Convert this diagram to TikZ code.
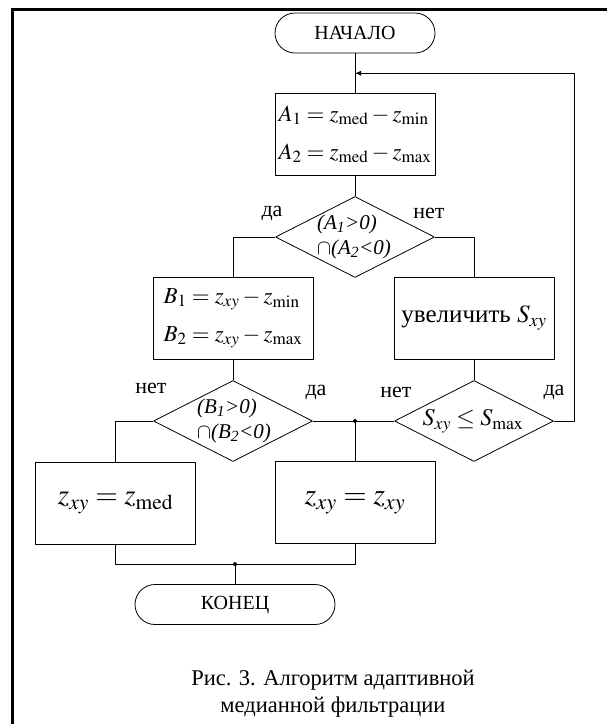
\documentclass[tikz,border=0pt]{standalone}
\usepackage{mathptmx}
\usepackage{fontspec}
\setmainfont{Liberation Serif}
\usetikzlibrary{arrows.meta,calc,shapes.geometric}
\newcommand{\setfs}[2]{\fontsize{#1}{#2}\selectfont}

\begin{document}
\begin{tikzpicture}[x=1pt,y=-1pt,>={Latex[length=6pt,width=5pt]},line join=round,
  term/.style={draw,line width=0.8pt,rounded corners=20pt,minimum height=40pt,inner sep=0pt,font=\setfs{20}{20}},
  proc/.style={draw,line width=0.8pt,minimum width=160pt,minimum height=82pt,inner sep=0pt,align=left},
  decision/.style={draw,diamond,line width=0.8pt,minimum width=159pt,minimum height=81pt,inner sep=0pt},
  cond/.style={align=left,inner sep=0pt,font=\setfs{21}{25}\itshape},
  lbl/.style={inner sep=0pt,font=\setfs{22}{22}},
  link/.style={line width=0.8pt}]
  \useasboundingbox (0,0) rectangle (607,724);
  % frame
  \draw[line width=2.7pt,line join=miter] (12.3,730) -- (12.3,9.7) -- (615,9.7);
  % blocks
  \node[term,minimum width=160pt] (start) at (355,33) {НАЧАЛО};
  \node[proc,font=\setfs{23}{38}] (A) at (355,134.5) {$A_1=z_{\mathrm{med}}-z_{\mathrm{min}}$\\$A_2=z_{\mathrm{med}}-z_{\mathrm{max}}$};
  \node[decision] (d1) at (355,237) {};
  \node[cond] (c1) at (354,237) {(A\textsubscript{1}>0)\\$\cap$(A\textsubscript{2}<0)};
  \node[proc,font=\setfs{23}{38}] (B) at (233,318.5) {$B_1=z_{xy}-z_{\mathrm{min}}$\\$B_2=z_{xy}-z_{\mathrm{max}}$};
  \node[proc,font=\setfs{25}{25}] (C) at (474,318) {увеличить $S_{xy}$};
  \node[decision] (d2) at (233,421) {};
  \node[cond] (c2) at (234,421) {(B\textsubscript{1}>0)\\$\cap$(B\textsubscript{2}<0)};
  \node[decision] (d3) at (474,421) {};
  \node[inner sep=0pt,font=\setfs{24}{24}] (c3) at (473,421) {$S_{xy}\le S_{\mathrm{max}}$};
  \node[proc,font=\setfs{29}{29}] (D) at (115.5,503) {$z_{xy}=z_{\mathrm{med}}$};
  \node[proc,font=\setfs{30}{30}] (E) at (355,502.5) {$z_{xy}=z_{xy}$};
  \node[term,minimum width=200pt] (end) at (235,604.5) {КОНЕЦ};
  % connectors
  \draw[link] (start) -- (A);
  \draw[link] (A) -- (d1);
  \draw[link] (d1.west) -| (B.north);
  \draw[link] (d1.east) -| (C.north);
  \draw[link] (B) -- (d2);
  \draw[link] (C) -- (d3);
  \draw[link] (d2.west) -| (D.north);
  \draw[link] (d2.east) -- (d3.west);
  \coordinate (j1) at (E.north |- d2.east);
  \draw[link] (j1) -- (E.north);
  \fill (j1) circle (2pt);
  \coordinate (j2) at ($(end.north)+(0,-20)$);
  \draw[link] (D.south) |- (j2) -| (E.south);
  \draw[link] (j2) -- (end.north);
  \fill (j2) circle (2pt);
  \coordinate (back) at ($(start.south)!0.5!(A.north)$);
  \draw[link,->] (d3.east) -- ++(20,0) |- (back);
  % branch labels
  \node[lbl] (l1) at (272,213) {да};
  \node[lbl] (l2) at (429,213) {нет};
  \node[lbl] (l3) at (151,388) {нет};
  \node[lbl] (l4) at (316,392) {да};
  \node[lbl] (l5) at (396,392) {нет};
  \node[lbl] (l6) at (554,392) {да};
  % caption
  \node[inner sep=0pt,align=center,font=\setfs{22.5}{27}] (cap) at (333,693.5) {Рис. 3. Алгоритм адаптивной\\медианной фильтрации};
\end{tikzpicture}
\end{document}
